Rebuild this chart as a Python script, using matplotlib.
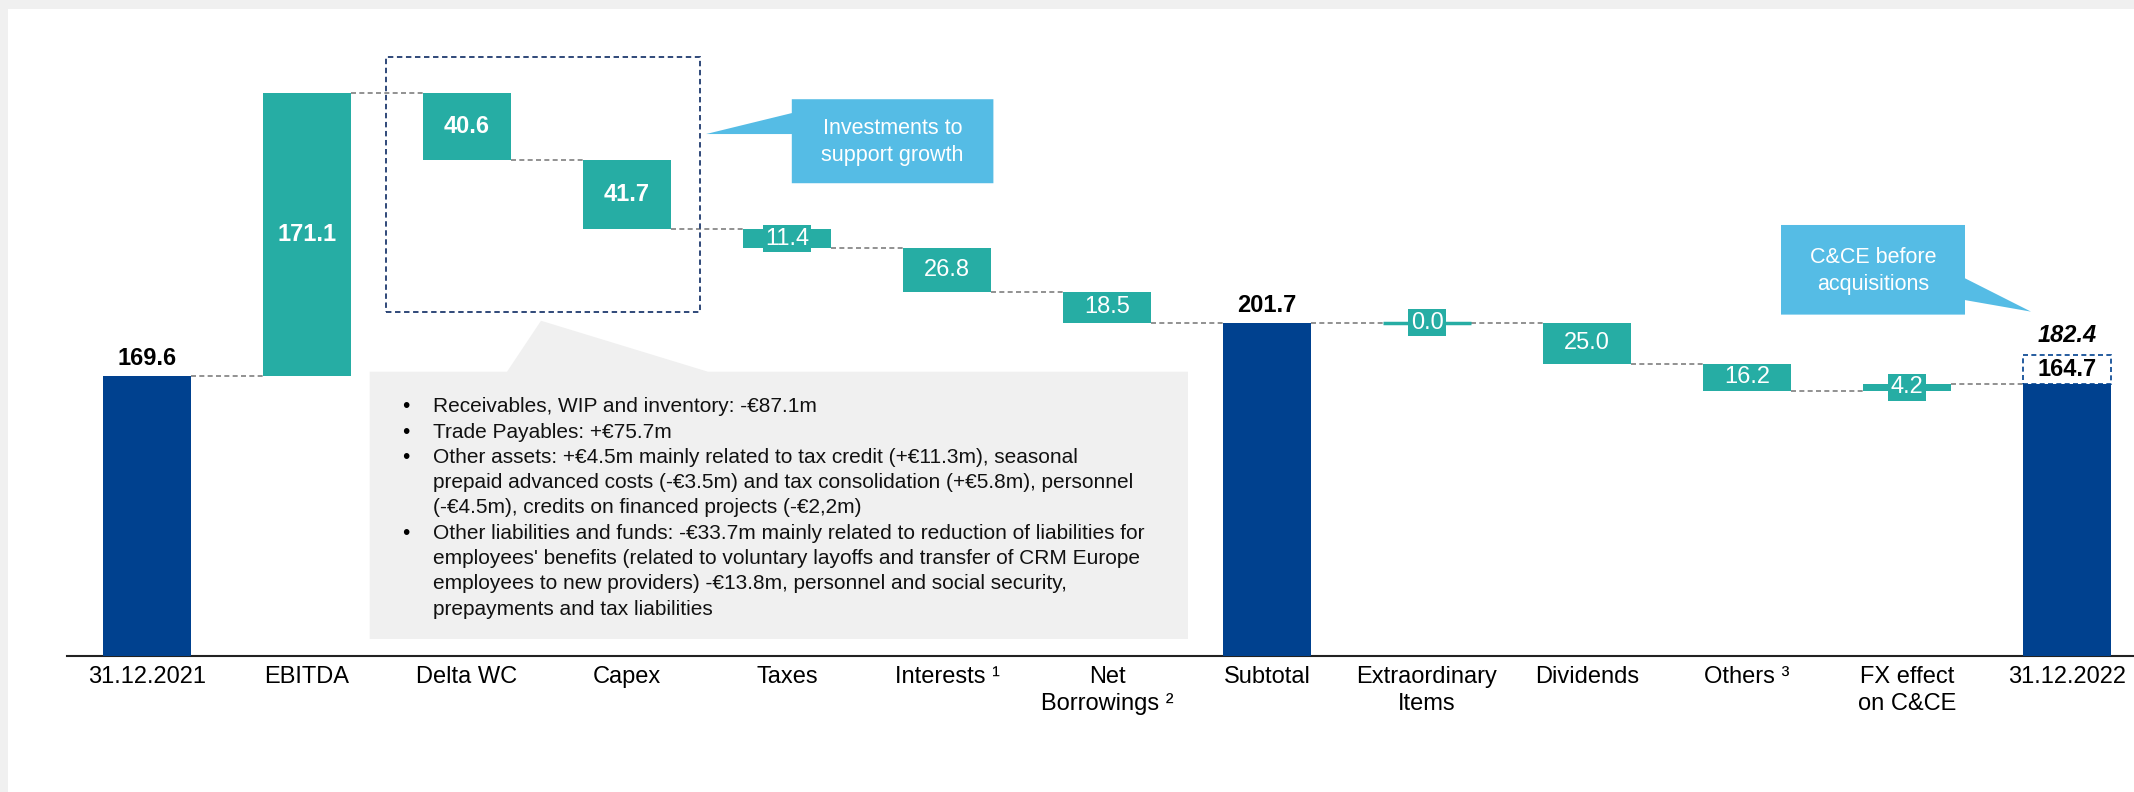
import matplotlib
matplotlib.use('Agg')
import matplotlib.pyplot as plt
from matplotlib.patches import Polygon, Rectangle

plt.rcParams['font.family'] = ['Liberation Sans', 'DejaVu Sans']

# cash bridge 2021 -> 2022 (EUR m)
categories = ['31.12.2021', 'EBITDA', 'Delta WC', 'Capex', 'Taxes', 'Interests ¹',
              'Net\nBorrowings ²', 'Subtotal', 'Extraordinary\nItems', 'Dividends',
              'Others ³', 'FX effect\non C&CE', '31.12.2022']
steps = [169.6, 171.1, -40.6, -41.7, -11.4, -26.8, -18.5, 201.7, 0.0, -25.0, -16.2, 4.2, 164.7]
is_total = [True, False, False, False, False, False, False, True, False, False, False, False, True]
bold_steps = ['EBITDA', 'Delta WC', 'Capex']
before_acquisitions = 182.4

wc_notes = [
    "Receivables, WIP and inventory: -€87.1m",
    "Trade Payables: +€75.7m",
    "Other assets: +€4.5m mainly related to tax credit (+€11.3m), seasonal\n"
    "prepaid advanced costs (-€3.5m) and tax consolidation (+€5.8m), personnel\n"
    "(-€4.5m), credits on financed projects (-€2,2m)",
    "Other liabilities and funds: -€33.7m mainly related to reduction of liabilities for\n"
    "employees' benefits (related to voluntary layoffs and transfer of CRM Europe\n"
    "employees to new providers) -€13.8m, personnel and social security,\n"
    "prepayments and tax liabilities",
]

NAVY = '#00418F'
TEAL = '#26ADA4'
SKY = '#55BCE5'
GREY_BOX = '#F0F0F0'
W = 0.55

# running totals
bottoms, tops, levels = [], [], []
level = 0.0
for v, tot in zip(steps, is_total):
    if tot:
        b, t = 0.0, v
        level = v
    else:
        b, t = sorted([level, level + v])
        level = level + v
    bottoms.append(b)
    tops.append(t)
    levels.append(level)

fig = plt.figure(figsize=(21.34, 7.92), dpi=100, facecolor=GREY_BOX)
fig.patches.append(Rectangle((8 / 2134, 0), 1, (792 - 9) / 792, transform=fig.transFigure,
                             facecolor='white', edgecolor='none', zorder=-10))

ax = fig.add_axes([67 / 2134, (792 - 655.6) / 792, (2134 - 67) / 2134, (655.6 - 9) / 792])
ax.set_facecolor('none')
ax.set_xlim(-0.5, 12.41875)
ax.set_ylim(0, 391.76)

x = list(range(len(steps)))
colors = [NAVY if t else TEAL for t in is_total]
heights = [t - b for b, t in zip(bottoms, tops)]
ax.bar(x, heights, bottom=bottoms, width=W, color=colors, zorder=3)

# zero-height step shown as a flat line
for i, h in enumerate(heights):
    if h == 0 and not is_total[i]:
        ax.hlines(tops[i], i - W / 2, i + W / 2, color=TEAL, lw=2.5, zorder=3)

# connectors
for i in range(len(steps) - 1):
    ax.plot([i + W / 2, i + 1 - W / 2], [levels[i], levels[i]], color='#7F7F7F',
            lw=1.2, ls=(0, (3, 2)), zorder=2)

# value labels
last = len(steps) - 1
for i, v in enumerate(steps):
    if is_total[i] and i != last:
        ax.annotate(f'{v:.1f}', (i, tops[i]), xytext=(0, 8), textcoords='offset points',
                    ha='center', va='baseline', fontsize=17, fontweight='bold', zorder=5)
    elif not is_total[i]:
        box = None
        if abs(v) < 12:
            box = dict(boxstyle='square,pad=0.1', facecolor=TEAL, edgecolor='none')
        ax.text(i, (bottoms[i] + tops[i]) / 2, f'{abs(v):.1f}', ha='center', va='center',
                color='white', fontsize=17,
                fontweight='bold' if categories[i] in bold_steps else 'normal',
                bbox=box, zorder=5)

# closing cash before acquisitions
ax.add_patch(Rectangle((last - W / 2, steps[last]), W, before_acquisitions - steps[last],
                       facecolor='white', edgecolor=NAVY, lw=1.2, ls=(0, (3, 2)), zorder=3))
ax.text(last, (steps[last] + before_acquisitions) / 2, f'{steps[last]:.1f}', ha='center',
        va='center', fontsize=17, fontweight='bold', zorder=5)
ax.annotate(f'{before_acquisitions:.1f}', (last, before_acquisitions), xytext=(0, 9),
            textcoords='offset points', ha='center', va='baseline', fontsize=17,
            fontweight='bold', fontstyle='italic', zorder=5)

# dashed frame around working capital + capex
ax.add_patch(Rectangle((1.492, 208.0), 3.454 - 1.492, 362.9 - 208.0, facecolor='none',
                       edgecolor='#1F3A6E', lw=1.3, ls=(0, (3, 2)), zorder=4))

# grey notes box with pointer
ax.add_patch(Polygon([(1.392, 10.06), (1.392, 172.0), (2.25, 172.0), (2.4625, 202.9),
                      (3.506, 172.0), (6.506, 172.0), (6.506, 10.06)],
                     closed=True, facecolor=GREY_BOX, edgecolor='none', zorder=1))
bullets = []
for note in wc_notes:
    n = note.count('\n') + 1
    bullets.append('•' + '\n' * (n - 1))
ax.text(1.5925, 156.5, '\n'.join(bullets), ha='left', va='top', fontsize=15,
        linespacing=1.42, zorder=5)
ax.text(1.79, 156.5, '\n'.join(wc_notes), ha='left', va='top', fontsize=15,
        linespacing=1.42, color='#111111', zorder=5)

# callouts
ax.add_patch(Polygon([(4.03, 286.2), (4.03, 316.0), (3.494, 316.0), (4.03, 328.7),
                      (4.03, 337.1), (5.29, 337.1), (5.29, 286.2)],
                     closed=True, facecolor=SKY, edgecolor='none', zorder=4))
ax.text(4.66, 311.2, 'Investments to\nsupport growth', ha='center', va='center',
        color='white', fontsize=15.5, linespacing=1.32, zorder=5)

ax.add_patch(Polygon([(10.2125, 206.6), (10.2125, 260.9), (11.3625, 260.9), (11.3625, 228.6),
                      (11.775, 208.4), (11.3625, 215.4), (11.3625, 206.6)],
                     closed=True, facecolor=SKY, edgecolor='none', zorder=4))
ax.text(10.7875, 233.0, 'C&CE before\nacquisitions', ha='center', va='center',
        color='white', fontsize=15.5, linespacing=1.32, zorder=5)

# axes styling
for s in ['top', 'left', 'right']:
    ax.spines[s].set_visible(False)
ax.spines['bottom'].set_color('#222222')
ax.spines['bottom'].set_linewidth(1.5)
ax.set_yticks([])
ax.set_xticks(x, categories, fontsize=17, linespacing=1.3)
ax.tick_params(axis='x', length=0, pad=7.5)

fig.savefig('out.png', dpi=100, facecolor=fig.get_facecolor())
